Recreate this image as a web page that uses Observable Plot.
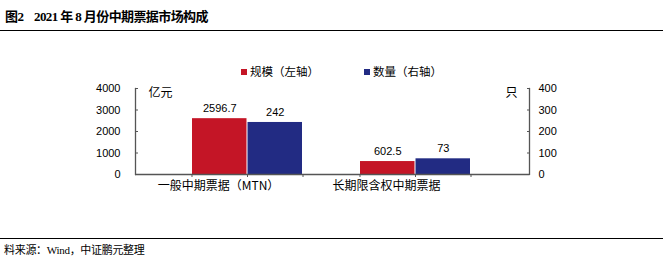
<!DOCTYPE html>
<html><head><meta charset="utf-8">
<script src="https://cdn.jsdelivr.net/npm/d3@7"></script>
<script src="https://cdn.jsdelivr.net/npm/@observablehq/plot@0.6"></script>
<style>
body{margin:0;width:663px;height:264px;position:relative;background:#fff;overflow:hidden;font-family:"Noto Sans CJK SC",sans-serif;color:#000}
#rule1{position:absolute;left:0;top:30px;width:663px;height:0;border-top:1.5px solid #000}
#rule2{position:absolute;left:0;top:238px;width:663px;height:0;border-top:1.5px solid #000}
.t{position:absolute;font-weight:bold;font-size:13px;line-height:14px;top:10px;font-family:"Liberation Serif","Noto Sans CJK SC",serif;letter-spacing:-0.6px}
#src{position:absolute;left:4px;top:241px;font-size:11px;line-height:16px;letter-spacing:-0.3px}
#src .w{font-family:"Liberation Serif",serif}
#legend{position:absolute;top:63px;left:0;font-size:11.5px;line-height:16px}
.li{position:absolute;white-space:nowrap}
.sw{display:inline-block;width:6px;height:6px;margin-right:3px;vertical-align:1px}
#chart{position:absolute;left:0;top:40px}
</style></head>
<body>
<div class="t" style="left:5px">图2</div>
<div class="t" style="left:34px">2021 年 8 月份中期票据市场构成</div>
<div id="rule1"></div>
<div id="legend"></div>
<div id="chart"></div>
<div id="rule2"></div>
<div id="src">料来源：<span class="w">Wind</span>，中证鹏元整理</div>
<script>
const categories = ["一般中期票据（MTN）", "长期限含权中期票据"];
const seriesNames = ["规模（左轴）", "数量（右轴）"];
const amounts = [2596.7, 602.5];   // 亿元, left axis
const counts = [242, 73];          // 只, right axis
const leftTicks = [0, 1000, 2000, 3000, 4000];
const rightTicks = [0, 100, 200, 300, 400];
const colors = ["#C41526", "#222B83"];
const leftUnit = "亿元", rightUnit = "只";

const ratio = leftTicks[leftTicks.length - 1] / rightTicks[rightTicks.length - 1];
const rows = categories.map((c, i) => ({cat: c, amount: amounts[i], count: counts[i], countScaled: counts[i] * ratio}));

// legend
const lg = document.getElementById("legend");
const lx = [241, 364];
seriesNames.forEach((s, i) => {
  const d = document.createElement("div");
  d.className = "li"; d.style.left = lx[i] + "px";
  d.innerHTML = `<span class="sw" style="background:${colors[i]}"></span>${s}`;
  lg.appendChild(d);
});

const W = 663, H = 195;
const xRange = [191, 471];
const half = (xRange[1] - xRange[0]) / (2 - 0.343) * (1 - 0.343) / 2;
const axisColor = "#555";

const chart = Plot.plot({
  width: W, height: H,
  marginTop: 48, marginBottom: 61, marginLeft: 135, marginRight: 134,
  style: {fontFamily: "'Liberation Sans','Noto Sans CJK SC',sans-serif", fontSize: "11px", color: "#000", overflow: "visible"},
  x: {type: "band", domain: categories, range: xRange, paddingInner: 0.343, paddingOuter: 0, label: null},
  y: {domain: [0, leftTicks[leftTicks.length - 1]], label: null},
  marks: [
    Plot.barY(rows, {x: "cat", y: "amount", fill: colors[0], insetRight: half}),
    Plot.barY(rows, {x: "cat", y: "countScaled", fill: colors[1], insetLeft: half}),
    Plot.ruleY([0], {stroke: axisColor, strokeWidth: 1.3}),
    Plot.frame({anchor: "left", stroke: axisColor, strokeWidth: 1.3}),
    Plot.frame({anchor: "right", stroke: axisColor, strokeWidth: 1.3}),
    ...[-half, 0, half].map(dx => Plot.ruleX(rows, {x: "cat", y1: 0, y2: 0, dx, insetBottom: -3, stroke: axisColor})),
    Plot.axisY({anchor: "left", ticks: leftTicks, tickFormat: d => String(d), tickSize: -3, tickPadding: 18, stroke: axisColor, fill: "#000", fontSize: 11}),
    Plot.axisY({anchor: "right", ticks: leftTicks, tickFormat: d => String(d / ratio), tickSize: -3, tickPadding: 12, stroke: axisColor, fill: "#000", fontSize: 11}),
    Plot.axisX({tickSize: 0, tickPadding: 7, dx: -29, fontSize: 12, fill: "#000", fontFamily: "'Noto Sans CJK SC',sans-serif"}),
    Plot.text(rows, {x: "cat", y: "amount", text: d => String(d.amount), dx: -half / 2, dy: -10, fill: "#000", fontSize: 11}),
    Plot.text(rows, {x: "cat", y: "countScaled", text: d => String(d.count), dx: half / 2, dy: -10, fill: "#000", fontSize: 11}),
    Plot.text([leftUnit], {frameAnchor: "top-left", dx: 13, textAnchor: "start", fontSize: 12, fill: "#000", fontFamily: "'Noto Sans CJK SC',sans-serif"}),
    Plot.text([rightUnit], {frameAnchor: "top-right", dx: -12, textAnchor: "end", fontSize: 12, fill: "#000", fontFamily: "'Noto Sans CJK SC',sans-serif"})
  ]
});
document.getElementById("chart").appendChild(chart);
</script>
</body></html>
